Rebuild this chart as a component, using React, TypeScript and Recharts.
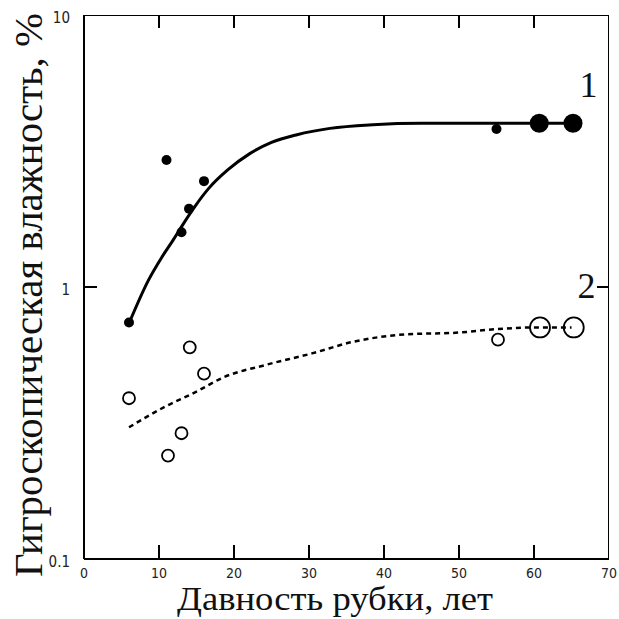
import React from 'react'
import { ComposedChart, Line, Scatter, XAxis, YAxis, Label, LabelList } from 'recharts'

const xTicks = [0, 10, 20, 30, 40, 50, 60, 70]
const yTicks = [0.1, 1, 10]

// series 1 (filled points)
const years1 = [6, 11, 13, 14, 16, 55]
const moist1 = [0.74, 2.93, 1.59, 1.94, 2.45, 3.81]
const years1Big = [60.7, 65.2]
const moist1Big = [4.0, 4.0]
const fitYears1 = [6, 8.6, 10.4, 11.9, 13.2, 14.8, 16.6, 19.2, 22, 25, 28.4, 32.8, 38.5, 45, 55, 65]
const fitMoist1 = [0.735, 1.06, 1.29, 1.49, 1.7, 1.98, 2.3, 2.7, 3.08, 3.4, 3.63, 3.83, 3.95, 4.0, 4.0, 4.0]

// series 2 (open points)
const years2 = [6, 11.2, 13, 14.1, 16, 55.2]
const moist2 = [0.39, 0.24, 0.29, 0.6, 0.48, 0.64]
const years2Big = [60.8, 65.3]
const moist2Big = [0.71, 0.71]
const fitYears2 = [6, 10.8, 14.8, 18.8, 24.1, 30.4, 36, 43, 50, 55, 60, 65]
const fitMoist2 = [0.305, 0.363, 0.41, 0.468, 0.516, 0.57, 0.63, 0.67, 0.68, 0.7, 0.71, 0.71]

const rows = (xs: number[], ys: number[]) => xs.map((x, i) => ({ x, y: ys[i] }))

const serif = "'Liberation Serif', 'Times New Roman', serif"
const narrow = "'Liberation Sans Narrow', 'Arial Narrow', 'DejaVu Sans Condensed', sans-serif"
const axisLine = { stroke: '#000', strokeWidth: 2 }

function BottomLabel(props: any) {
  const { x, y, payload } = props
  return (
    <text x={x} y={y + 14} textAnchor="middle" dominantBaseline="central" fontFamily={narrow} fontSize={14} fill="#222">
      {payload.value}
    </text>
  )
}

function LeftLabel(props: any) {
  const { x, y, payload } = props
  return (
    <text x={x - 14} y={y + 3} textAnchor="end" dominantBaseline="central" fontFamily={narrow} fontSize={15} fill="#222">
      {payload.value}
    </text>
  )
}

// inward tick marks, placed through the chart scales
const markV = (len: number) => (p: any) => (
  <path d={`M${p.cx},${p.cy}v${len}`} stroke="#000" strokeWidth={2} fill="none" />
)
const markH = (len: number) => (p: any) => (
  <path d={`M${p.cx},${p.cy}h${len}`} stroke="#000" strokeWidth={2} fill="none" />
)

const curveLabel = (name: string, last: number, dx: number, dy: number) => (props: any) => {
  if (props.index !== last) return null
  return (
    <text x={props.x + dx} y={props.y + dy} textAnchor="middle" fontFamily={serif} fontSize={36} fill="#111">
      {name}
    </text>
  )
}

const dot = (r: number) => (p: any) => <circle cx={p.cx} cy={p.cy} r={r} fill="#000" />
const ring = (r: number) => (p: any) => <circle cx={p.cx} cy={p.cy} r={r} fill="none" stroke="#000" strokeWidth={1.8} />

export default function App() {
  const yMin = yTicks[0]
  const yMax = yTicks[yTicks.length - 1]
  const xMin = xTicks[0]
  const xMax = xTicks[xTicks.length - 1]
  return (
    <div style={{ position: 'absolute', left: 0, top: 0, background: '#fff' }}>
      <ComposedChart width={619} height={619} margin={{ top: 15, right: 10, bottom: 0, left: 0 }}>
        <XAxis
          dataKey="x"
          type="number"
          domain={[xMin, xMax]}
          ticks={xTicks}
          interval={0}
          allowDataOverflow
          height={60}
          tickSize={0}
          tickMargin={0}
          tickLine={false}
          tick={BottomLabel}
          axisLine={axisLine}
        >
          <Label
            content={() => (
              <text x={335} y={610} textAnchor="middle" fontFamily={serif} fontSize={33} textLength={316} lengthAdjust="spacingAndGlyphs" fill="#111">
                Давность рубки, лет
              </text>
            )}
          />
        </XAxis>
        <YAxis
          type="number"
          scale="log"
          domain={[yMin, yMax]}
          ticks={yTicks}
          interval={0}
          allowDataOverflow
          width={84}
          tickSize={0}
          tickMargin={0}
          tickLine={false}
          tick={LeftLabel}
          axisLine={axisLine}
        >
          <Label
            content={() => (
              <text
                x={42}
                y={295}
                transform="rotate(-90, 42, 295)"
                textAnchor="middle"
                fontFamily={serif}
                fontSize={40}
                textLength={564}
                lengthAdjust="spacingAndGlyphs"
                fill="#111"
              >
                Гигроскопическая влажность, %
              </text>
            )}
          />
        </YAxis>

        {/* top and right frame lines */}
        <Line data={rows([xMin, xMax], [yMax, yMax])} dataKey="y" type="linear" stroke="#000" strokeWidth={2} dot={false} activeDot={false} isAnimationActive={false} />
        <Line data={rows([xMax, xMax], [yMin, yMax])} dataKey="y" type="linear" stroke="#000" strokeWidth={2} dot={false} activeDot={false} isAnimationActive={false} />

        <Scatter data={rows(xTicks, xTicks.map(() => yMin))} dataKey="y" shape={markV(-14)} isAnimationActive={false} />
        <Scatter data={rows(xTicks, xTicks.map(() => yMax))} dataKey="y" shape={markV(13)} isAnimationActive={false} />
        <Scatter data={rows(yTicks.map(() => xMin), yTicks)} dataKey="y" shape={markH(13)} isAnimationActive={false} />
        <Scatter data={rows(yTicks.map(() => xMax), yTicks)} dataKey="y" shape={markH(-12)} isAnimationActive={false} />

        <Line
          data={rows(fitYears1, fitMoist1)}
          dataKey="y"
          type="monotone"
          stroke="#000"
          strokeWidth={3}
          dot={false}
          activeDot={false}
          isAnimationActive={false}
        >
          <LabelList dataKey="y" content={curveLabel('1', fitYears1.length - 1, 17, -26)} />
        </Line>
        <Line
          data={rows(fitYears2, fitMoist2)}
          dataKey="y"
          type="monotone"
          stroke="#000"
          strokeWidth={2.5}
          strokeDasharray="5 4"
          dot={false}
          activeDot={false}
          isAnimationActive={false}
        >
          <LabelList dataKey="y" content={curveLabel('2', fitYears2.length - 1, 15, -29)} />
        </Line>

        <Scatter data={rows(years1, moist1)} dataKey="y" shape={dot(5)} isAnimationActive={false} />
        <Scatter data={rows(years1Big, moist1Big)} dataKey="y" shape={dot(9.5)} isAnimationActive={false} />
        <Scatter data={rows(years2, moist2)} dataKey="y" shape={ring(6)} isAnimationActive={false} />
        <Scatter data={rows(years2Big, moist2Big)} dataKey="y" shape={ring(10)} isAnimationActive={false} />
      </ComposedChart>
    </div>
  )
}
